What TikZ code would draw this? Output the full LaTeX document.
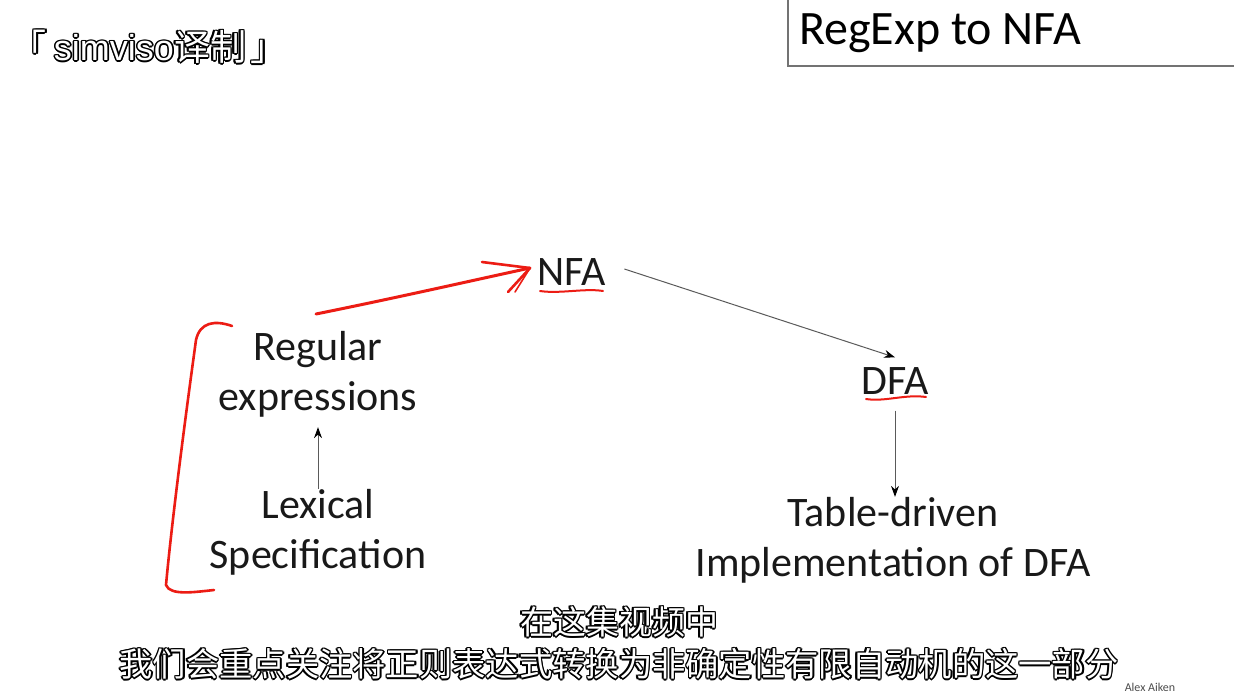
\documentclass[tikz,border=0pt]{standalone}
\usepackage{fontspec}
\setmainfont{Carlito}
\newfontfamily\cjk{Noto Sans CJK SC}
\newfontfamily\subsans{Liberation Sans}
\usetikzlibrary{arrows.meta,calc}
\definecolor{penred}{RGB}{236,28,20}
\definecolor{linegray}{RGB}{90,90,90}
\tikzset{
  lbl/.style={font=\fontsize{42}{50}\selectfont, align=center, inner sep=2pt, text=black!90},
  conn/.style={draw=linegray, line width=1pt, -{Stealth[length=11pt,width=8pt,color=black]}},
  pen/.style={draw=penred, line width=2.6pt, line cap=round, line join=round},
}
\newcommand{\outlined}[4]{%
  \foreach \dx/\dy in {-1.6/0,1.6/0,0/-1.6,0/1.6,-1.2/-1.2,1.2/1.2,-1.2/1.2,1.2/-1.2}{
    \node[text=black, inner sep=0pt, font=#3] at ($(#1)+(\dx,\dy)$) {#2};
  }
  \node[text=white, inner sep=0pt, font=#3] (#4) at (#1) {#2};
}
\begin{document}
\begin{tikzpicture}[x=1pt,y=-1pt]
\useasboundingbox[fill=white] (0,0) rectangle (1234,694);
% title box
\draw[draw=black!55, line width=1.2pt] (788,-5) -- (788,66) -- (1240,66);
\node[anchor=west, font=\fontsize{48}{50}\selectfont, inner sep=0pt] (title) at (799,33) {RegExp to NFA};

% main nodes
\node[lbl] (nfa) at (572,272) {NFA};
\node[lbl] (dfa) at (895,381) {DFA};
\node[lbl] (regex) at (318,374) {Regular\\expressions};
\node[lbl] (lex) at (318,532) {Lexical\\Specification};
\node[lbl] (table) at (893,540) {Table-driven\\Implementation of DFA};

% connectors
\draw[conn] ($(nfa.east)+(16,-3)$) -- ($(dfa.north)+(0,-8)$);
\draw[conn] ($(dfa.south)+(0,14)$) -- ($(table.north)+(2,2)$);
\draw[conn] ($(lex.north)+(0,2)$) -- ($(regex.south)+(0,8)$);

% red annotations
\coordinate (rs) at (316,314);
\coordinate (tip) at (530,268);
\draw[pen, line width=3pt] (rs) .. controls (400,297) and (470,281) .. (tip);
\draw[pen] (tip) -- (482,262);
\draw[pen] (tip) -- (508,292);
\draw[pen, line width=1.6pt] (tip) -- (515,292);
\draw[pen, line width=2pt] (540,291) .. controls (560,294) and (585,288) .. (603,291);
\draw[pen, line width=2pt] (866,399) .. controls (885,402) and (905,394) .. (926,397);
\draw[pen] (232,326) .. controls (215,320) and (200,322) .. (196,340)
  .. controls (185,420) and (172,520) .. (166,585)
  .. controls (170,596) and (195,592) .. (214,590);

% watermark & subtitles
\outlined{149,47}{{\cjk 「}\hspace{7pt}simviso{\cjk 译制}\hspace{5pt}{\cjk 」}}{\subsans\fontsize{36}{40}\selectfont}{mark}
\outlined{619,622}{在这集视频中}{\cjk\fontsize{33}{36}\selectfont}{sub1}
\outlined{619,664}{我们会重点关注将正则表达式转换为非确定性有限自动机的这一部分}{\cjk\fontsize{33.3}{36}\selectfont}{sub2}
\node[font=\fontsize{12}{14}\selectfont, text=black!70, inner sep=0pt] (author) at (1150,687) {Alex Aiken};
\end{tikzpicture}
\end{document}
